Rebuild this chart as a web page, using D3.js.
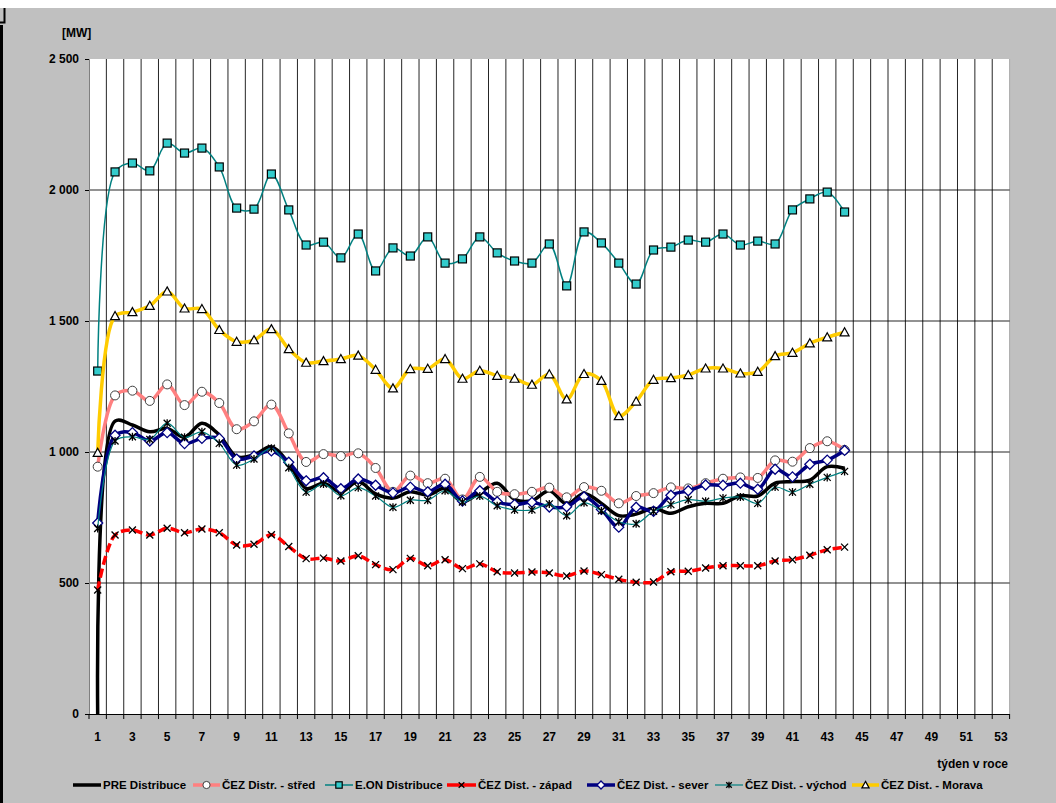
<!DOCTYPE html>
<html>
<head>
<meta charset="utf-8">
<script src="https://cdn.jsdelivr.net/npm/d3@7"></script>
<style>
  html, body { margin: 0; padding: 0; background: #fff; }
  svg text { font-family: "Liberation Sans", Arial, sans-serif; font-weight: bold; fill: #000; }
</style>
</head>
<body>
<svg id="chart" width="1056" height="803"></svg>
<script>
// Weekly peak load per distribution area [MW], weeks 1..44
const weeks = d3.range(1, 54);
const xTickLabels = d3.range(1, 54, 2);
const yTicks = [0, 500, 1000, 1500, 2000, 2500];

const preDistribuce = [0, 1118, 1103, 1077, 1090, 1056, 1110, 1065, 982, 989, 1020, 957, 861, 881, 848, 887, 840, 824,
  848, 836, 861, 810, 845, 881, 819, 814, 852, 802, 842, 804, 757, 763, 785, 766, 791, 804, 804, 833, 832, 881, 887, 893, 944, 938];
const cezStred = [944, 1216, 1234, 1195, 1258, 1179, 1230, 1187, 1087, 1117, 1181, 1071, 962, 992, 984, 995, 939, 848,
  910, 881, 898, 819, 905, 848, 839, 848, 864, 827, 866, 852, 804, 832, 843, 865, 861, 881, 898, 903, 901, 968, 963, 1015, 1041, 1008];
const eonDistribuce = [1309, 2069, 2103, 2073, 2179, 2141, 2160, 2088, 1931, 1927, 2061, 1924, 1790, 1801, 1741, 1832, 1691, 1779,
  1748, 1821, 1721, 1737, 1821, 1760, 1729, 1721, 1794, 1634, 1840, 1798, 1721, 1641, 1771, 1782, 1809, 1801, 1832, 1790, 1805, 1794, 1924, 1966, 1992, 1916];
const cezZapad = [473, 683, 702, 683, 709, 692, 706, 692, 645, 648, 684, 639, 593, 595, 584, 604, 570, 551,
  594, 566, 589, 555, 573, 543, 538, 542, 538, 527, 546, 532, 514, 503, 504, 543, 545, 557, 566, 566, 566, 584, 589, 606, 627, 637];
const cezSever = [729, 1064, 1074, 1042, 1074, 1032, 1052, 1052, 973, 985, 1004, 961, 890, 902, 860, 897, 873, 844,
  866, 848, 877, 813, 852, 810, 799, 808, 790, 791, 829, 781, 713, 789, 774, 835, 852, 874, 873, 881, 858, 934, 905, 953, 969, 1006];
const cezVychod = [708, 1042, 1058, 1048, 1110, 1056, 1077, 1033, 950, 973, 1014, 940, 847, 878, 833, 864, 832, 789,
  816, 816, 852, 809, 832, 795, 779, 779, 802, 757, 806, 776, 734, 726, 774, 799, 818, 812, 824, 828, 804, 866, 847, 877, 903, 926];
const cezMorava = [997, 1519, 1534, 1558, 1613, 1548, 1546, 1466, 1421, 1427, 1469, 1393, 1341, 1347, 1355, 1368, 1314, 1243,
  1317, 1318, 1355, 1280, 1310, 1291, 1280, 1257, 1297, 1201, 1298, 1272, 1137, 1193, 1276, 1282, 1294, 1319, 1319, 1300, 1306, 1366, 1379, 1415, 1438, 1457];

const series = [
  { name: "PRE Distribuce",      values: preDistribuce, color: "#000000", width: 3.5, dash: null,  marker: null },
  { name: "ČEZ Distr. - střed",  values: cezStred,      color: "#ff8080", width: 3.5, dash: null,  marker: "circle" },
  { name: "E.ON Distribuce",     values: eonDistribuce, color: "#008080", width: 1.5, dash: null,  marker: "square" },
  { name: "ČEZ Dist. - západ",   values: cezZapad,      color: "#ff0000", width: 3.5, dash: "9,4", marker: "x" },
  { name: "ČEZ Dist. - sever",   values: cezSever,      color: "#000080", width: 3.5, dash: null,  marker: "diamond" },
  { name: "ČEZ Dist. - východ",  values: cezVychod,     color: "#008080", width: 1.2, dash: null,  marker: "star" },
  { name: "ČEZ Dist. - Morava",  values: cezMorava,     color: "#ffcc00", width: 3.5, dash: null,  marker: "triangle" }
];
// legend item positions: line sample start, label start
const legendSampleX = [73, 193, 325, 447, 587, 715, 852];
const legendTextX = [103, 222, 355, 478, 617, 745, 881];

const svg = d3.select("#chart");

// chart background and frame
svg.append("rect").attr("x", 0).attr("y", 8).attr("width", 1056).attr("height", 795).attr("fill", "#c0c0c0");
svg.append("line").attr("x1", 1.5).attr("x2", 1.5).attr("y1", 25).attr("y2", 803).attr("stroke", "#000").attr("stroke-width", 3);
svg.append("path").attr("d", "M0,22.5H4.5V8").attr("fill", "none").attr("stroke", "#000").attr("stroke-width", 2);

const plot = { left: 89, right: 1009.6, top: 59, bottom: 714 };

const x = d3.scaleBand().domain(weeks).range([plot.left, plot.right]).padding(0);
const bw = x.bandwidth();
const cx = w => x(w) + bw / 2;
const y = d3.scaleLinear().domain([0, 2500]).range([plot.bottom, plot.top]);

// plot area
svg.append("rect")
  .attr("x", plot.left).attr("y", plot.top)
  .attr("width", plot.right - plot.left).attr("height", plot.bottom - plot.top)
  .attr("fill", "#ffffff");

// vertical gridlines on category boundaries
const grid = svg.append("g");
grid.selectAll("line.v").data(weeks).join("line")
  .attr("class", "v")
  .attr("x1", w => x(w) + bw).attr("x2", w => x(w) + bw)
  .attr("y1", plot.top).attr("y2", plot.bottom)
  .attr("stroke", (w, i) => i === weeks.length - 1 ? "#a0a0a0" : "#000")
  .attr("stroke-width", 1).attr("opacity", 0.85);

// horizontal gridlines
grid.selectAll("line.h").data(yTicks.filter(t => t > 0 && t < 2500)).join("line")
  .attr("class", "h")
  .attr("x1", plot.left).attr("x2", plot.right)
  .attr("y1", d => y(d)).attr("y2", d => y(d))
  .attr("stroke", "#000").attr("stroke-width", 1).attr("opacity", 0.85);

// y axis
const fmt = d => d3.format(",")(d).replace(/,/g, " ");
const yAxis = svg.append("g")
  .attr("transform", `translate(${plot.left},0)`)
  .call(d3.axisLeft(y).tickValues(yTicks).tickSize(4).tickPadding(6).tickFormat(fmt));
yAxis.select(".domain").attr("stroke", "#808080");
yAxis.selectAll(".tick line").attr("stroke", "#000");
yAxis.selectAll("text").attr("font-size", 12).style("font-family", "Liberation Sans, Arial, sans-serif").style("font-weight", "bold");

// x axis: tick marks at category boundaries, labels on odd weeks
const xAxis = svg.append("g")
  .attr("transform", `translate(0,${plot.bottom})`)
  .call(d3.axisBottom(x).tickValues(xTickLabels).tickSize(0).tickPadding(18));
xAxis.select(".domain").attr("stroke", "#000").attr("d", `M${plot.left},0.5H${plot.right}`);
xAxis.selectAll("text").attr("font-size", 12).style("font-family", "Liberation Sans, Arial, sans-serif").style("font-weight", "bold");
xAxis.selectAll("line.bt").data([0].concat(weeks)).join("line")
  .attr("class", "bt")
  .attr("x1", (d, i) => plot.left + i * bw).attr("x2", (d, i) => plot.left + i * bw)
  .attr("y1", 0).attr("y2", 5)
  .attr("stroke", "#000");

// axis titles
svg.append("text").attr("x", 62).attr("y", 37).attr("font-size", 12).text("[MW]");
svg.append("text").attr("x", 1008).attr("y", 768).attr("text-anchor", "end").attr("font-size", 12).text("týden v roce");

// series lines and markers (smoothed)
const line = d3.line()
  .x((d, i) => cx(weeks[i]))
  .y(d => y(d))
  .curve(d3.curveCatmullRom.alpha(0.5));

function drawMarker(g, type, color, k = 1) {
  if (type === "circle") {
    g.append("circle").attr("r", 4.5 * k).attr("fill", "#fff").attr("stroke", "#404040").attr("stroke-width", 1);
  } else if (type === "square") {
    g.append("rect").attr("x", -4 * k).attr("y", -4 * k).attr("width", 8 * k).attr("height", 8 * k)
      .attr("fill", "#33cccc").attr("stroke", "#000").attr("stroke-width", 1.2);
  } else if (type === "x") {
    const a = 3.5 * k;
    g.append("path").attr("d", `M${-a},${-a}L${a},${a}M${-a},${a}L${a},${-a}`).attr("stroke", "#000").attr("stroke-width", 1.3);
  } else if (type === "star") {
    const a = 3.5 * k;
    g.append("path").attr("d", `M${-a},${-a}L${a},${a}M${-a},${a}L${a},${-a}M0,${-a - 0.5}L0,${a + 0.5}`).attr("stroke", "#000").attr("stroke-width", 1.3);
  } else if (type === "diamond") {
    const a = 5 * k;
    g.append("path").attr("d", `M0,${-a}L${a},0L0,${a}L${-a},0Z`).attr("fill", "#fff").attr("stroke", color).attr("stroke-width", 1.3);
  } else if (type === "triangle") {
    const a = 4.5 * k;
    g.append("path").attr("d", `M0,${-a}L${a},${a * 0.8}L${-a},${a * 0.8}Z`).attr("fill", "#fff").attr("stroke", "#000").attr("stroke-width", 1.2);
  }
}

const seriesG = svg.append("g");
series.forEach(s => {
  const g = seriesG.append("g");
  g.append("path")
    .attr("d", line(s.values))
    .attr("fill", "none")
    .attr("stroke", s.color)
    .attr("stroke-width", s.width)
    .attr("stroke-linejoin", "round")
    .attr("stroke-dasharray", s.dash);
  if (s.marker) {
    s.values.forEach((v, i) => {
      const m = g.append("g").attr("transform", `translate(${cx(weeks[i])},${y(v)})`);
      drawMarker(m, s.marker, s.color);
    });
  }
});

// legend
const legend = svg.append("g").attr("transform", "translate(0,785)");
series.forEach((s, i) => {
  const x0 = legendSampleX[i];
  const x1 = legendTextX[i] - 2;
  legend.append("line").attr("x1", x0).attr("x2", x1).attr("y1", 0).attr("y2", 0)
    .attr("stroke", s.color).attr("stroke-width", s.width);
  if (s.marker) drawMarker(legend.append("g").attr("transform", `translate(${(x0 + x1) / 2},0)`), s.marker, s.color, 0.8);
  legend.append("text").attr("x", legendTextX[i]).attr("y", 4).attr("font-size", 11.5).text(s.name);
});
</script>
</body>
</html>
